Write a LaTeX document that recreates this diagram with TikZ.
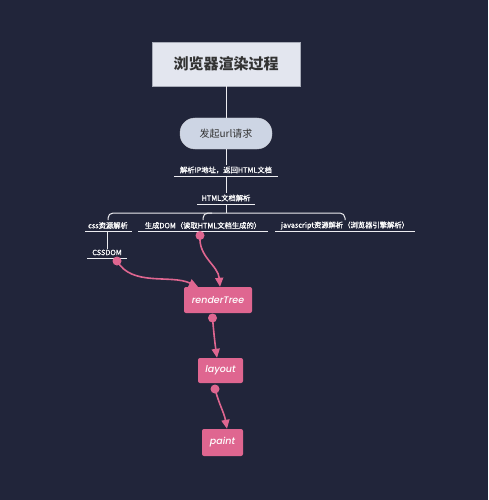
\documentclass[tikz,border=0pt]{standalone}
\usepackage{fontspec}
\setmainfont{Noto Sans CJK SC}
\newfontfamily\cjk{Noto Sans CJK SC}
\newfontfamily\cjklbl[FakeBold=0.8]{Noto Sans CJK SC}
\newfontfamily\latinit[UprightFont=* Medium, ItalicFont=* Medium Italic]{Poppins}
\usetikzlibrary{arrows.meta}
\definecolor{bg}{HTML}{21253A}
\definecolor{titlefill}{HTML}{E3E6EF}
\definecolor{titleborder}{HTML}{A8ACB8}
\definecolor{pillfill}{HTML}{CDD5E4}
\definecolor{pinkc}{HTML}{DF6690}
\definecolor{linec}{HTML}{ECECF0}
\tikzset{
  titlebox/.style={draw=titleborder,line width=0.8pt,fill=titlefill,minimum width=148pt,minimum height=44pt,inner sep=0pt,font=\cjk\fontsize{15}{18}\selectfont\bfseries,text=black!80},
  pillbox/.style={draw=titleborder!60,fill=pillfill,rounded corners=15pt,minimum width=92pt,minimum height=31pt,inner sep=0pt,font=\cjk\fontsize{10}{12}\selectfont,text=black!80},
  lbl/.style={font=\cjklbl\fontsize{7.3}{9}\selectfont,text=white,inner sep=1pt},
  uline/.style={draw=linec,line width=1pt},
  conn/.style={draw=linec,line width=1pt},
  pinkbox/.style={fill=pinkc,rounded corners=2pt,inner sep=0pt,text=white,font=\latinit\fontsize{9.5}{11}\selectfont\itshape},
  pinkconn/.style={draw=pinkc,line width=1.6pt,-{Triangle[length=9pt,width=8pt]}},
  dot/.style={circle,fill=pinkc,inner sep=0pt,minimum size=9pt}
}
\begin{document}
\begin{tikzpicture}[x=1pt,y=-1pt]
\fill[bg] (0,0) rectangle (488,500);
\useasboundingbox (0,0) rectangle (488,500);

\node[titlebox] (title) at (226,64) {浏览器渲染过程};
\node[pillbox] (pill) at (226,133.5) {发起url请求};

\node[lbl] (ip) at (226,170) {解析IP地址，返回HTML文档};
\coordinate (ipL) at (174,176); \coordinate (ipR) at (278,176); \coordinate (ipC) at (226,176);
\node[lbl] (html) at (226,198) {HTML文档解析};
\coordinate (htL) at (197,204); \coordinate (htR) at (255,204); \coordinate (htC) at (226,204);

\node[lbl] (css) at (108,225.5) {css资源解析};
\coordinate (cssL) at (85,231); \coordinate (cssR) at (132,231);
\node[lbl] (dom) at (203,225.5) {生成DOM（读取HTML文档生成的）};
\coordinate (domL) at (138,231); \coordinate (domR) at (268,231);
\node[lbl] (js) at (345,225.5) {javascript资源解析（浏览器引擎解析）};
\coordinate (jsL) at (275,231); \coordinate (jsR) at (415,231);

\node[lbl] (cssdom) at (107,252.5) {CSSDOM};
\coordinate (cdL) at (87,258); \coordinate (cdR) at (127,258);
\coordinate (cssC) at (107,231);

\coordinate (barA) at (108,220); \coordinate (barB) at (203,220); \coordinate (barC) at (345,220);
\coordinate (barM) at (226,213); \coordinate (barB2) at (212,213);

% underlines
\draw[uline] (ipL) -- (ipR);
\draw[uline] (htL) -- (htR);
\draw[uline] (cssL) -- (cssR);
\draw[uline] (domL) -- (domR);
\draw[uline] (jsL) -- (jsR);
\draw[uline] (cdL) -- (cdR);

% connectors
\draw[conn] (title.south) -- (pill.north);
\draw[conn] (pill.south) -- (ip.north);
\draw[conn] (ipC) -- (html.north);
\draw[conn] (htC) -- (barM);
\draw[conn,rounded corners=5pt] (barA) |- (barC |- barM) -- (barC);
\draw[conn,rounded corners=5pt] (barB) |- (barB2);
\draw[conn] (cssC) -- (cssdom.north);

% pink nodes
\node[pinkbox,minimum width=68pt,minimum height=26pt] (rt) at (218,300) {renderTree};
\node[pinkbox,minimum width=45pt,minimum height=25pt] (lay) at (220.5,370.5) {layout};
\node[pinkbox,minimum width=41pt,minimum height=27pt] (paint) at (222.5,442.5) {paint};

\node[dot] (d1) at (117,261) {};
\node[dot] (d2) at (200,235.5) {};
\node[dot] (d3) at (212.5,318) {};
\node[dot] (d4) at (215,389) {};

\draw[pinkconn] (d1.center) to[out=-60,in=155,looseness=0.9] (rt.north -| 198,0);
\draw[pinkconn] (d2.center) to[out=-95,in=95] (rt.north -| 220,0);
\draw[pinkconn] (d3.center) to[out=-85,in=98] (lay.north -| 217,0);
\draw[pinkconn] (d4.center) to[out=-75,in=100] (paint.north -| 227,0);
\end{tikzpicture}
\end{document}
